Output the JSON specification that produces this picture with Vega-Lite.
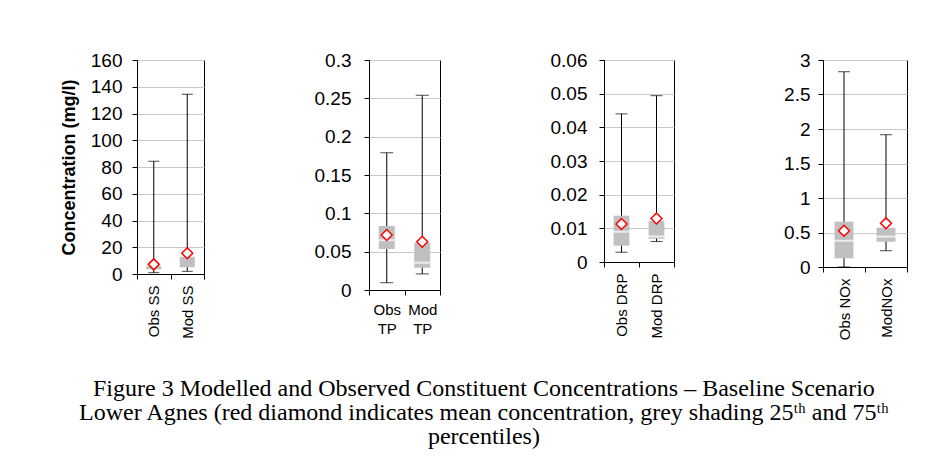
{
  "$schema": "https://vega.github.io/schema/vega-lite/v6.json",
  "background": "white",
  "padding": {"left": 59, "top": 50, "right": 0, "bottom": 0},
  "spacing": 108,
  "title": {
    "text": [
      "Figure 3 Modelled and Observed Constituent Concentrations – Baseline Scenario",
      "Lower Agnes (red diamond indicates mean concentration, grey shading 25ᵗʰ and 75ᵗʰ",
      "percentiles)"
    ],
    "orient": "bottom",
    "anchor": "middle",
    "font": "Liberation Serif",
    "fontSize": 24,
    "fontWeight": "normal",
    "lineHeight": 24,
    "offset": 37,
    "color": "black"
  },
  "hconcat": [
    {
      "width": 67,
      "height": 214,
      "data": {"values": [
        {"series": "Obs SS", "min": 1, "q1": 3.5, "q3": 6, "max": 84.3, "mean": 7.2},
        {"series": "Mod SS", "min": 2, "q1": 5, "q3": 12.9, "max": 134.4, "mean": 15.5}
      ]},
      "encoding": {
        "x": {"field": "series", "type": "nominal", "sort": null, "title": null,
          "scale": {"paddingInner": 0, "paddingOuter": 0},
          "axis": {"labelAngle": -90, "tickBand": "extent"}}
      },
      "layer": [
        {"mark": {"type": "rule", "color": "black", "strokeWidth": 1},
         "encoding": {
           "y": {"field": "min", "type": "quantitative", "title": "Concentration (mg/l)",
             "scale": {"domain": [0, 160], "nice": false},
             "axis": {"values": [0, 20, 40, 60, 80, 100, 120, 140, 160], "labelPadding": 10, "titlePadding": 12}},
           "y2": {"field": "max"}}},
        {"mark": {"type": "tick", "color": "black", "size": 11, "thickness": 1},
         "encoding": {"y": {"field": "min", "type": "quantitative", "title": "Concentration (mg/l)"}}},
        {"mark": {"type": "tick", "color": "black", "size": 11, "thickness": 1},
         "encoding": {"y": {"field": "max", "type": "quantitative", "title": "Concentration (mg/l)"}}},
        {"mark": {"type": "bar", "color": "#c0c0c0", "width": {"band": 0.45}},
         "encoding": {"y": {"field": "q1", "type": "quantitative", "title": "Concentration (mg/l)"}, "y2": {"field": "q3"}}},
        {"mark": {"type": "point", "shape": "diamond", "filled": true, "fill": "white", "stroke": "#ff0000", "strokeWidth": 1.5, "size": 120, "opacity": 1},
         "encoding": {"y": {"field": "mean", "type": "quantitative", "title": "Concentration (mg/l)"}}}
      ]
    },
    {
      "width": 71,
      "height": 230,
      "data": {"values": [
        {"series": "Obs TP", "min": 0.0095, "q1": 0.0535, "med": 0.065, "q3": 0.0835, "max": 0.179, "mean": 0.0717},
        {"series": "Mod TP", "min": 0.021, "q1": 0.029, "med": 0.0356, "q3": 0.0617, "max": 0.254, "mean": 0.063}
      ]},
      "encoding": {
        "x": {"field": "series", "type": "nominal", "sort": null, "title": null,
          "scale": {"paddingInner": 0, "paddingOuter": 0},
          "axis": {"labelAngle": 0, "labelAlign": "center", "labelBaseline": "top", "tickBand": "extent", "labelExpr": "split(datum.label, ' ')", "labelLineHeight": 19, "labelPadding": 7}}
      },
      "layer": [
        {"mark": {"type": "rule", "color": "black", "strokeWidth": 1},
         "encoding": {
           "y": {"field": "min", "type": "quantitative", "title": null,
             "scale": {"domain": [0, 0.3], "nice": false},
             "axis": {"values": [0, 0.05, 0.1, 0.15, 0.2, 0.25, 0.3], "labelPadding": 13}},
           "y2": {"field": "max"}}},
        {"mark": {"type": "tick", "color": "black", "size": 13, "thickness": 1},
         "encoding": {"y": {"field": "min", "type": "quantitative", "title": null}}},
        {"mark": {"type": "tick", "color": "black", "size": 13, "thickness": 1},
         "encoding": {"y": {"field": "max", "type": "quantitative", "title": null}}},
        {"mark": {"type": "bar", "color": "#c0c0c0", "width": {"band": 0.45}},
         "encoding": {"y": {"field": "q1", "type": "quantitative", "title": null}, "y2": {"field": "q3"}}},
        {"mark": {"type": "tick", "color": "white", "size": 16, "thickness": 2},
         "encoding": {"y": {"field": "med", "type": "quantitative", "title": null}}},
        {"mark": {"type": "point", "shape": "diamond", "filled": true, "fill": "white", "stroke": "#ff0000", "strokeWidth": 1.5, "size": 120, "opacity": 1},
         "encoding": {"y": {"field": "mean", "type": "quantitative", "title": null}}}
      ]
    },
    {
      "width": 70,
      "height": 202,
      "data": {"values": [
        {"series": "Obs DRP", "min": 0.0029, "q1": 0.00485, "med": 0.009, "q3": 0.01376, "max": 0.044, "mean": 0.0113},
        {"series": "Mod DRP", "min": 0.0061, "q1": 0.0069, "med": 0.0076, "q3": 0.0122, "max": 0.0494, "mean": 0.0129}
      ]},
      "encoding": {
        "x": {"field": "series", "type": "nominal", "sort": null, "title": null,
          "scale": {"paddingInner": 0, "paddingOuter": 0},
          "axis": {"labelAngle": -90, "tickBand": "extent"}}
      },
      "layer": [
        {"mark": {"type": "rule", "color": "black", "strokeWidth": 1},
         "encoding": {
           "y": {"field": "min", "type": "quantitative", "title": null,
             "scale": {"domain": [0, 0.06], "nice": false},
             "axis": {"values": [0, 0.01, 0.02, 0.03, 0.04, 0.05, 0.06], "labelPadding": 12}},
           "y2": {"field": "max"}}},
        {"mark": {"type": "tick", "color": "black", "size": 12, "thickness": 1},
         "encoding": {"y": {"field": "min", "type": "quantitative", "title": null}}},
        {"mark": {"type": "tick", "color": "black", "size": 12, "thickness": 1},
         "encoding": {"y": {"field": "max", "type": "quantitative", "title": null}}},
        {"mark": {"type": "bar", "color": "#c0c0c0", "width": {"band": 0.45}},
         "encoding": {"y": {"field": "q1", "type": "quantitative", "title": null}, "y2": {"field": "q3"}}},
        {"mark": {"type": "tick", "color": "white", "size": 16, "thickness": 2},
         "encoding": {"y": {"field": "med", "type": "quantitative", "title": null}}},
        {"mark": {"type": "point", "shape": "diamond", "filled": true, "fill": "white", "stroke": "#ff0000", "strokeWidth": 1.5, "size": 120, "opacity": 1},
         "encoding": {"y": {"field": "mean", "type": "quantitative", "title": null}}}
      ]
    },
    {
      "width": 84,
      "height": 207,
      "data": {"values": [
        {"series": "Obs NOx", "min": 0, "q1": 0.126, "med": 0.38, "q3": 0.657, "max": 2.83, "mean": 0.526},
        {"series": "ModNOx", "min": 0.236, "q1": 0.367, "med": 0.44, "q3": 0.57, "max": 1.917, "mean": 0.633}
      ]},
      "encoding": {
        "x": {"field": "series", "type": "nominal", "sort": null, "title": null,
          "scale": {"paddingInner": 0, "paddingOuter": 0},
          "axis": {"labelAngle": -90, "tickBand": "extent"}}
      },
      "layer": [
        {"mark": {"type": "rule", "color": "black", "strokeWidth": 1},
         "encoding": {
           "y": {"field": "min", "type": "quantitative", "title": null,
             "scale": {"domain": [0, 3], "nice": false},
             "axis": {"values": [0, 0.5, 1, 1.5, 2, 2.5, 3], "labelPadding": 8}},
           "y2": {"field": "max"}}},
        {"mark": {"type": "tick", "color": "black", "size": 12, "thickness": 1},
         "encoding": {"y": {"field": "min", "type": "quantitative", "title": null}}},
        {"mark": {"type": "tick", "color": "black", "size": 12, "thickness": 1},
         "encoding": {"y": {"field": "max", "type": "quantitative", "title": null}}},
        {"mark": {"type": "bar", "color": "#c0c0c0", "width": {"band": 0.45}},
         "encoding": {"y": {"field": "q1", "type": "quantitative", "title": null}, "y2": {"field": "q3"}}},
        {"mark": {"type": "tick", "color": "white", "size": 19, "thickness": 2},
         "encoding": {"y": {"field": "med", "type": "quantitative", "title": null}}},
        {"mark": {"type": "point", "shape": "diamond", "filled": true, "fill": "white", "stroke": "#ff0000", "strokeWidth": 1.5, "size": 120, "opacity": 1},
         "encoding": {"y": {"field": "mean", "type": "quantitative", "title": null}}}
      ]
    }
  ],
  "config": {
    "view": {"stroke": "black", "strokeWidth": 1},
    "font": "Liberation Sans",
    "axis": {
      "domainColor": "black",
      "tickColor": "black",
      "tickSize": 5,
      "labelColor": "black",
      "labelFont": "Liberation Sans",
      "titleFont": "Liberation Sans",
      "titleColor": "black"
    },
    "axisY": {
      "labelFontSize": 19,
      "titleFontSize": 18,
      "titleFontWeight": "bold",
      "grid": true,
      "gridColor": "#c8c8c8",
      "format": "~r",
      "labelOverlap": false,
      "tickCount": 20
    },
    "axisX": {
      "labelFontSize": 15,
      "labelPadding": 6,
      "grid": false
    }
  }
}
